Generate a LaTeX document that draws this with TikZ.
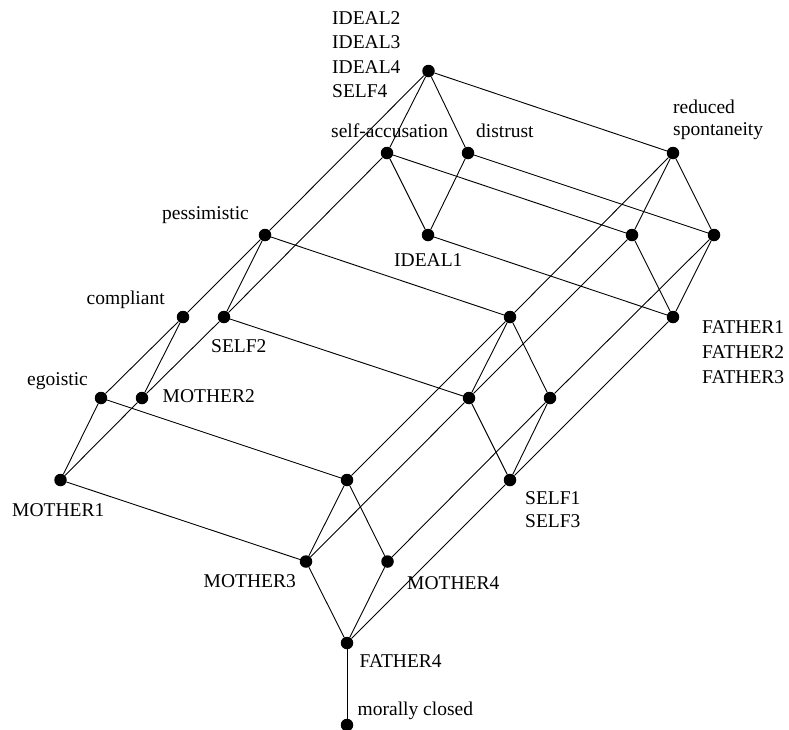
\documentclass[tikz,border=0pt]{standalone}
\usepackage{fontspec}
\setmainfont{Liberation Serif}
\begin{document}
\begin{tikzpicture}[x=1pt,y=-1pt,
  dot/.style={circle,fill=black,inner sep=0pt,minimum size=12.5pt},
  lab/.style={anchor=base west,inner sep=0pt,font=\fontsize{19.5}{24}\selectfont},
  edge/.style={line width=0.9pt}]
\useasboundingbox (0,0) rectangle (789,729);
% nodes
\node[dot] (T)  at (428.5,71) {};
\node[dot] (SA) at (387,153) {};
\node[dot] (DI) at (468,153) {};
\node[dot] (RS) at (673,153) {};
\node[dot] (PE) at (265,235) {};
\node[dot] (I1) at (428,235) {};
\node[dot] (R1) at (632,235) {};
\node[dot] (R2) at (714,235) {};
\node[dot] (CO) at (183,317) {};
\node[dot] (S2) at (224,317) {};
\node[dot] (M5) at (510,317) {};
\node[dot] (F1) at (673,317) {};
\node[dot] (EG) at (101,398) {};
\node[dot] (M2) at (142,398) {};
\node[dot] (N1) at (469,398) {};
\node[dot] (N2) at (550,398) {};
\node[dot] (M1) at (60.5,480) {};
\node[dot] (P)  at (347,480) {};
\node[dot] (S1) at (510,480) {};
\node[dot] (M3) at (306,561.5) {};
\node[dot] (M4) at (387.5,561.5) {};
\node[dot] (F4) at (347,643) {};
\node[dot] (MC) at (347,725) {};
% edges
\begin{scope}[edge]
\draw (T)--(SA); \draw (T)--(DI); \draw (T)--(RS); \draw (T)--(PE);
\draw (SA)--(I1); \draw (DI)--(I1); \draw (SA)--(R1); \draw (DI)--(R2);
\draw (I1)--(F1); \draw (SA)--(S2);
\draw (RS)--(R1); \draw (RS)--(R2); \draw (R1)--(F1); \draw (R2)--(F1);
\draw (RS)--(M5);
\draw (PE)--(CO); \draw (PE)--(S2); \draw (PE)--(M5);
\draw (CO)--(EG); \draw (CO)--(M2); \draw (S2)--(M2); \draw (S2)--(N1);
\draw (EG)--(M1); \draw (M2)--(M1); \draw (EG)--(P);
\draw (M5)--(N1); \draw (M5)--(N2); \draw (M5)--(P);
\draw (R1)--(N1); \draw (R2)--(N2); \draw (F1)--(S1);
\draw (N1)--(S1); \draw (N2)--(S1); \draw (N1)--(M3); \draw (N2)--(M4);
\draw (S1)--(F4);
\draw (M1)--(M3); \draw (P)--(M3); \draw (P)--(M4);
\draw (M3)--(F4); \draw (M4)--(F4); \draw (F4)--(MC);
\end{scope}
% labels
\node[lab] (tI2) at (332,24) {IDEAL2};
\node[lab] (tI3) at (332,48.5) {IDEAL3};
\node[lab] (tI4) at (332,73) {IDEAL4};
\node[lab] (tS4) at (332,97.5) {SELF4};
\node[lab] (tSA) at (331,137) {self-accusation};
\node[lab] (tDI) at (476,137) {distrust};
\node[lab] (tRS1) at (673,113.5) {reduced};
\node[lab] (tRS2) at (673,135.5) {spontaneity};
\node[lab] (tPE) at (162,219.5) {pessimistic};
\node[lab] (tI1) at (394,266) {IDEAL1};
\node[lab] (tCO) at (86.5,304) {compliant};
\node[lab] (tS2) at (211,352) {SELF2};
\node[lab] (tF1) at (702,333.5) {FATHER1};
\node[lab] (tF2) at (702,358.5) {FATHER2};
\node[lab] (tF3) at (702,383.5) {FATHER3};
\node[lab] (tEG) at (27,385) {egoistic};
\node[lab] (tM2) at (162.5,402.5) {MOTHER2};
\node[lab] (tM1) at (12,516) {MOTHER1};
\node[lab] (tS1) at (525,504.5) {SELF1};
\node[lab] (tS3) at (525,527) {SELF3};
\node[lab] (tM3) at (203.5,587.5) {MOTHER3};
\node[lab] (tM4) at (407,589) {MOTHER4};
\node[lab] (tF4) at (359.5,667.5) {FATHER4};
\node[lab] (tMC) at (357.5,715) {morally closed};
\end{tikzpicture}
\end{document}
